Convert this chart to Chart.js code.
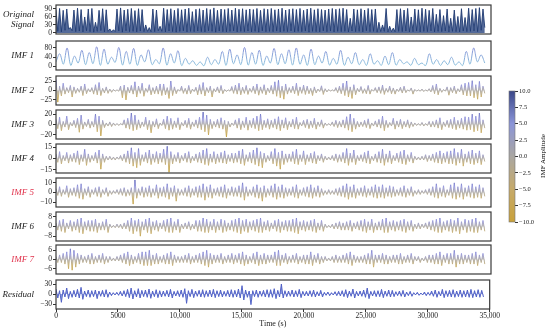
<!DOCTYPE html>
<html>
<head>
<meta charset="utf-8">
<script src="https://cdn.jsdelivr.net/npm/chart.js@4.4.1/dist/chart.umd.min.js"></script>
<style>
  body { margin: 0; background: #fff; }
  #wrap { position: relative; width: 550px; height: 334px; overflow: hidden; }
  #wrap canvas { position: absolute; }
  .lab { position: absolute; right: 516px; font: italic 9px "Liberation Serif", serif; color: #222; text-align: right; line-height: 10.5px; white-space: pre; }
  .cbt { position: absolute; font: 7px "Liberation Serif", serif; color: #111; transform: rotate(-90deg); transform-origin: center; white-space: nowrap; }
</style>
</head>
<body>
<div id="wrap"></div>
<script>
// ---- data ----
const panelNames = ['Original\nSignal', 'IMF 1', 'IMF 2', 'IMF 3', 'IMF 4', 'IMF 5', 'IMF 6', 'IMF 7', 'Residual'];

const originalSignal = [
  88,6,92,4,85,10,90,15,20,8, 86,5,93,7,88,4,60,8,90,5, 92,3,40,6,85,9,91,4,87,6,
  15,4,12,5,90,7,94,3,86,8, 89,5,92,6,84,4,91,7,88,5, 30,6,20,4,90,5,86,8,25,6,
  93,4,88,7,91,5,85,3,92,6, 87,8,90,4,93,6,80,5,89,7, 91,5,86,4,92,8,88,6,94,3,
  85,7,90,5,88,4,92,6,86,8, 93,4,89,6,91,5,87,7,90,4, 88,6,92,3,85,8,91,5,89,6,
  92,5,87,7,90,4,93,6,86,5, 89,8,91,4,88,6,92,5,85,7, 90,3,93,6,87,5,91,4,88,8,
  86,5,90,7,92,4,89,6,91,5, 93,6,88,4,55,7,90,5,87,6, 91,4,86,8,92,5,88,6,90,3,
  40,5,30,6,92,4,25,5,18,4, 88,6,91,5,86,7,92,4,60,5, 90,7,87,4,93,6,89,5,85,8,
  92,4,70,6,88,5,65,7,90,4, 55,6,86,5,62,4,91,7,58,5, 93,6,88,8,92,5,95,10,90,20
];
const imf1 = [
  20,55,10,80,5,45,15,70,8,60,12,85,5,75,10,40,18,82,6,
  65,10,78,5,50,20,72,8,30,12,80,6,55,15,68,4,35,10,
  25,5,20,3,40,8,30,10,65,5,75,12,50,8,82,6,
  60,10,70,5,45,15,78,8,55,12,72,6,80,10,50,5,
  75,8,45,15,65,6,35,10,70,5,40,12,60,8,30,5,
  55,10,25,5,45,8,60,6,30,12,20,5,35,8,15,4,
  55,10,30,5,25,8,40,6,20,4,65,10,80,20,50,15
];
const imf2 = [
  30,-32,12,-15,20,-10,8,-6,14,-18, 10,-8,6,-5,12,-14,18,-9,5,-4, 8,-10,16,-12,22,-14,6,-7,10,-8,
  4,-5,3,-2,2,-2,12,-20,15,-26, 9,-7,14,-10,24,-18,12,-8,20,-16, 6,-5,16,-12,8,-9,12,-10,18,-14,
  18,-12,8,-22,26,-14,10,-9,3,-2, 12,-8,6,-10,14,-9,4,-3,9,-12, 16,-10,22,-15,8,-6,12,-18,5,-4,
  10,-7,14,-9,3,-3,2,-2,11,-8, 15,-10,20,-12,9,-8,14,-11,6,-5, 12,-9,18,-13,10,-8,16,-12,7,-6,
  14,-10,24,-16,28,-20,12,-24,18,-10, 8,-6,12,-9,20,-14,10,-8,15,-11, 12,-9,6,-14,10,-7,4,-3,13,-11,
  5,-4,3,-2,2,-2,8,-6,12,-9, 20,-14,26,-18,10,-22,16,-12,6,-4, 11,-8,5,-9,14,-10,3,-2,8,-6,
  10,-8,15,-11,6,-5,12,-9,7,-10, 4,-3,9,-7,12,-6,2,-2,7,-10, 3,-2,2,-2,4,-3,2,-2,5,-4,
  14,-9,18,-12,6,-5,3,-2,10,-13, 8,-6,12,-9,5,-4,16,-12,20,-15, 22,-15,27,-20,16,-24,25,-18,12,-8
];
const imf3 = [
  10,-8,14,-12,6,-5,16,-10,4,-3, 8,-6,12,-15,18,-9,5,-4,10,-7, 6,-5,20,-14,16,-22,8,-6,3,-3,
  5,-4,3,-2,2,-2,2,-1,9,-7, 12,-9,22,-12,18,-10,9,-7,5,-4, 14,-10,8,-16,6,-5,11,-8,3,-2,
  10,-8,16,-11,12,-9,7,-6,13,-10, 4,-3,8,-6,12,-9,5,-4,9,-7, 14,-10,24,-14,18,-20,10,-8,6,-5,
  10,-7,13,-9,8,-24,6,-5,3,-2, 9,-7,12,-10,7,-6,14,-11,8,-6, 12,-8,16,-12,20,-10,8,-6,11,-9,
  8,-6,11,-9,15,-12,9,-7,13,-10, 6,-5,10,-8,14,-9,4,-3,8,-6, 10,-8,7,-6,12,-9,5,-4,9,-7,
  3,-2,2,-2,5,-4,8,-6,6,-5, 9,-7,15,-11,20,-14,12,-9,6,-5, 5,-4,8,-6,11,-8,3,-3,7,-5,
  10,-7,16,-12,8,-6,4,-3,12,-9, 7,-5,10,-8,6,-5,9,-7,5,-4, 3,-2,2,-2,4,-3,2,-2,6,-5,
  6,-5,9,-7,13,-10,5,-4,8,-6, 10,-8,14,-10,8,-7,12,-9,15,-11, 14,-10,20,-14,16,-12,22,-16,9,-7
];
const imf4 = [
  6,-5,9,-7,4,-3,8,-6,5,-4, 7,-5,10,-8,5,-4,12,-9,6,-5, 4,-3,8,-6,11,-14,6,-5,3,-2,
  3,-2,2,-2,2,-1,4,-3,6,-5, 10,-7,14,-10,8,-12,13,-9,5,-4, 8,-6,11,-8,6,-5,9,-7,7,-5,
  12,-8,16,-18,9,-7,5,-4,8,-6, 4,-3,7,-5,9,-6,3,-3,6,-5, 8,-6,11,-8,13,-9,6,-5,9,-7,
  6,-5,8,-6,10,-7,5,-4,7,-6, 7,-5,10,-7,12,-9,5,-4,8,-6, 11,-8,14,-10,9,-12,7,-5,4,-3,
  9,-7,13,-10,8,-14,10,-8,6,-5, 6,-4,9,-7,12,-8,5,-4,10,-8, 5,-4,7,-6,9,-7,4,-3,6,-5,
  3,-2,2,-2,4,-3,6,-5,5,-4, 8,-6,13,-9,7,-5,11,-8,4,-3, 5,-4,8,-6,10,-7,3,-3,6,-5,
  9,-6,12,-9,6,-5,10,-7,4,-3, 7,-5,9,-7,11,-8,5,-4,8,-6, 3,-2,2,-2,3,-2,5,-4,4,-3,
  6,-5,8,-6,10,-7,7,-5,9,-7, 10,-7,13,-9,8,-6,12,-10,6,-5, 9,-7,11,-8,7,-6,10,-8,5,-4
];
const imf5 = [
  4,-3,6,-4,3,-2,7,-5,4,-3, 5,-4,8,-6,9,-7,4,-3,6,-5, 3,-2,5,-4,6,-5,3,-2,5,-4,
  2,-2,2,-1,3,-2,4,-3,5,-4, 3,-3,5,-12,13,-6,4,-3,6,-5, 5,-4,7,-5,4,-3,8,-6,5,-4,
  6,-5,9,-7,5,-4,7,-9,4,-3, 3,-3,5,-4,7,-5,4,-3,6,-5, 7,-5,9,-8,6,-5,8,-6,4,-3,
  5,-4,6,-5,8,-6,4,-3,6,-4, 5,-4,7,-5,10,-8,6,-4,3,-3, 6,-5,8,-6,5,-9,7,-5,4,-3,
  7,-5,9,-7,6,-5,8,-6,5,-4, 4,-3,6,-5,8,-6,3,-3,5,-4, 6,-5,8,-6,5,-4,7,-5,4,-3,
  2,-2,3,-2,2,-2,4,-3,5,-4, 7,-5,9,-7,6,-5,8,-6,4,-3, 5,-4,7,-5,4,-3,6,-5,8,-6,
  6,-5,8,-6,5,-4,7,-5,6,-4, 3,-3,5,-4,7,-5,4,-3,6,-4, 2,-2,3,-2,2,-1,3,-2,4,-3,
  6,-5,9,-6,5,-4,7,-5,3,-3, 8,-6,10,-7,6,-5,9,-7,5,-4, 7,-5,9,-6,6,-5,8,-6,5,-4
];
const imf6 = [
  3,-3,5,-4,6,-5,3,-2,5,-4, 4,-3,6,-5,7,-6,4,-3,5,-4, 5,-4,6,-5,3,-3,4,-3,6,-5,
  2,-1,1,-1,2,-1,2,-2,3,-2, 5,-4,7,-6,5,-4,6,-8,4,-3, 6,-5,7,-6,4,-3,5,-4,3,-2,
  5,-4,6,-5,7,-5,4,-3,6,-5, 2,-2,3,-2,4,-3,2,-2,5,-4, 5,-4,7,-5,6,-5,4,-3,6,-5,
  4,-3,6,-5,5,-4,3,-3,5,-4, 6,-5,7,-6,5,-4,6,-5,4,-3, 5,-4,6,-5,7,-5,4,-3,5,-4,
  3,-2,5,-4,6,-5,4,-3,5,-4, 5,-4,6,-5,7,-6,4,-3,5,-4, 4,-3,5,-4,6,-5,3,-3,5,-4,
  2,-1,1,-1,2,-2,3,-2,4,-3, 3,-3,4,-3,5,-4,3,-2,4,-3, 5,-4,6,-5,4,-3,6,-5,3,-3,
  4,-3,6,-5,7,-5,4,-3,5,-4, 4,-3,5,-4,6,-5,4,-3,5,-4, 2,-2,3,-2,2,-1,3,-2,4,-3,
  5,-4,6,-5,7,-5,4,-3,5,-4, 6,-5,5,-4,7,-6,4,-3,6,-5, 5,-4,6,-5,7,-5,4,-3,5,-4
];
const imf7 = [
  2,-2,3,-2,4,-3,5,-6,7,-7, 6,-5,4,-3,3,-2,2,-2,3,-3, 4,-3,2,-2,3,-2,4,-3,2,-2,
  2,-1,1,-1,2,-1,3,-2,4,-3, 5,-4,3,-3,2,-2,4,-3,5,-4, 5,-4,6,-4,3,-3,4,-3,2,-2,
  3,-3,4,-3,5,-4,3,-2,2,-2, 2,-2,3,-2,4,-3,2,-2,3,-2, 4,-3,5,-4,6,-5,4,-3,3,-2,
  3,-2,4,-3,2,-2,3,-2,4,-3, 3,-2,4,-3,5,-4,3,-3,2,-2, 4,-3,5,-4,3,-3,4,-3,3,-2,
  3,-2,5,-4,6,-4,3,-2,4,-3, 2,-2,3,-2,4,-3,2,-2,3,-3, 3,-3,5,-4,3,-2,4,-3,2,-2,
  2,-1,1,-1,2,-2,3,-2,2,-2, 3,-2,4,-3,5,-4,3,-2,2,-2, 2,-2,3,-3,4,-3,6,-5,3,-2,
  3,-2,4,-3,3,-3,2,-2,3,-2, 3,-3,4,-3,2,-2,3,-2,4,-3, 2,-1,2,-2,1,-1,2,-2,3,-2,
  3,-3,4,-3,5,-4,3,-2,4,-3, 4,-3,6,-5,3,-3,4,-3,3,-2, 3,-3,4,-3,5,-4,3,-2,4,-3
];
const residual = [
  15,-12,10,-25,12,-9,18,-14,8,-10, 11,-9,14,-12,20,-16,9,-8,12,-10, 10,-8,12,-14,9,-7,11,-9,13,-10,
  6,-5,4,-3,5,-4,8,-6,10,-8, 14,-11,18,-15,10,-9,16,-12,11,-8, 12,-10,15,-13,9,-8,13,-11,10,-9,
  9,-7,11,-9,14,-12,8,-6,10,-8, 12,-10,16,-28,10,-8,14,-11,9,-7, 11,-9,13,-10,10,-8,12,-9,14,-11,
  10,-8,12,-9,8,-7,11,-9,13,-10, 11,-9,15,-12,25,-18,12,-10,9,-32, 10,-8,12,-10,9,-7,11,-9,13,-10,
  13,-10,16,-14,11,-9,30,-12,10,-8, 9,-7,12,-9,10,-8,14,-11,8,-6, 8,-6,10,-8,12,-9,7,-6,11,-9,
  5,-4,6,-5,4,-3,7,-5,8,-6, 10,-8,13,-11,9,-7,15,-12,8,-6, 9,-7,12,-10,18,-14,8,-6,10,-8,
  10,-8,14,-11,9,-7,12,-9,11,-8, 7,-5,9,-7,11,-9,6,-5,8,-7, 4,-3,5,-4,3,-3,6,-5,5,-4,
  9,-7,12,-10,8,-6,14,-11,10,-8, 11,-9,13,-10,9,-8,12,-10,10,-9, 12,-10,14,-11,10,-9,13,-10,11,-9
];

const yTicks = [[0, 30, 60, 90], [0, 40, 80], [-25, 0, 25], [-20, 0, 20], [-15, 0, 15], [-10, 0, 10], [-8, 0, 8], [-6, 0, 6], [-30, 0, 30]];
const yRanges = [[-4, 105], [-15, 110], [-40, 40], [-28, 28], [-19, 19], [-15, 15], [-12, 12], [-9.5, 9.5], [-45, 42]];
const xTicks = [0, 5000, 10000, 15000, 20000, 25000, 30000, 35000];
const cbarTicks = [-10, -7.5, -5, -2.5, 0, 2.5, 5, 7.5, 10];
const T_END = 34500;

// ---- styling / layout ----
const FONT = '"Liberation Serif", "DejaVu Serif", serif';
const panelTops = [5, 41, 76, 110, 144, 178, 212, 245, 280];
const PANEL_H = 29;
const PAD = 6;
const CBAR_STOPS = [[0, [201, 161, 58]], [0.25, [198, 170, 106]], [0.5, [170, 167, 162]], [0.75, [139, 149, 216]], [1, [59, 72, 137]]];
const BAND_STOPS = [[0, [196, 158, 48]], [0.3, [201, 176, 112]], [0.5, [172, 168, 164]], [0.7, [150, 152, 222]], [1, [84, 92, 176]]];
const IMF1_STOPS = [[0, [140, 205, 222]], [1, [134, 128, 214]]];
const RES_STOPS = [[0, [120, 200, 230]], [0.5, [90, 110, 205]], [1, [70, 88, 200]]];

Chart.defaults.font.family = FONT;
Chart.defaults.color = '#222';

const frame = {
  id: 'frame',
  afterDatasetsDraw(chart, args, opts) {
    const { ctx, chartArea: a } = chart;
    ctx.save();
    ctx.strokeStyle = opts.color || '#3a3a3a';
    ctx.lineWidth = opts.width || 1.2;
    ctx.strokeRect(a.left, a.top, a.width, a.height);
    ctx.restore();
  }
};

const rgba = (c, a) => `rgba(${c[0]},${c[1]},${c[2]},${a})`;

function areaGradient(chart, stops, alpha) {
  const { ctx, chartArea: a } = chart;
  if (!a) return rgba(stops[0][1], alpha);
  const g = ctx.createLinearGradient(0, a.bottom, 0, a.top);
  stops.forEach(([p, c]) => g.addColorStop(p, rgba(c, alpha)));
  return g;
}

const toPoints = (vals) => vals.map((v, i) => ({ x: i * T_END / (vals.length - 1), y: v }));

const wrap = document.getElementById('wrap');

function createPanel(i, values, line, fill, opts = {}) {
  const last = i === panelNames.length - 1;
  const canvas = document.createElement('canvas');
  canvas.width = 500;
  canvas.height = PAD + PANEL_H + (last ? 22 : PAD);
  canvas.style.left = '0px';
  canvas.style.top = (panelTops[i] - PAD) + 'px';
  wrap.appendChild(canvas);

  const lab = document.createElement('div');
  lab.className = 'lab';
  lab.textContent = panelNames[i];
  if (i === 5 || i === 7) lab.style.color = '#e0304a';
  const lines = panelNames[i].split('\n').length;
  lab.style.top = (panelTops[i] + PANEL_H / 2 - lines * 5.25 - 0.5) + 'px';
  wrap.appendChild(lab);

  new Chart(canvas.getContext('2d'), {
    type: 'line',
    data: {
      datasets: [{
        data: toPoints(values),
        borderColor: line,
        backgroundColor: fill || 'transparent',
        borderWidth: opts.lw || 0.9,
        pointRadius: 0,
        tension: opts.tension || 0,
        fill: fill ? 'origin' : false
      }]
    },
    options: {
      responsive: false,
      animation: false,
      events: [],
      layout: { padding: { top: PAD, bottom: last ? 0 : PAD, left: 0, right: 9 } },
      plugins: { legend: { display: false }, tooltip: { enabled: false }, frame: { width: 1.2 } },
      scales: {
        x: {
          type: 'linear',
          min: 0,
          max: 35000,
          display: last,
          afterBuildTicks: (s) => { s.ticks = xTicks.map(v => ({ value: v })); },
          afterFit: (s) => { if (last) s.height = 22; },
          grid: { drawOnChartArea: false, tickLength: 3, color: '#333' },
          border: { display: false },
          ticks: {
            font: { size: 7.5 },
            padding: 0,
            maxRotation: 0,
            autoSkip: false,
            callback: (v) => v >= 10000 ? v.toLocaleString('en-US') : String(v)
          },
          title: { display: true, text: 'Time (s)', font: { size: 8 }, padding: { top: 0, bottom: 2 } }
        },
        y: {
          min: yRanges[i][0],
          max: yRanges[i][1],
          afterBuildTicks: (s) => { s.ticks = yTicks[i].map(v => ({ value: v })); },
          afterFit: (s) => { s.width = 56; },
          grid: { drawOnChartArea: false, tickLength: 3, color: '#333' },
          border: { display: false },
          ticks: { font: { size: 7.5 }, padding: 1, autoSkip: false, callback: (v) => String(v).replace('-', '\u2212') }
        }
      }
    },
    plugins: [frame]
  });
}

createPanel(0, originalSignal, '#1f3a72', 'rgba(36,64,124,0.78)', { lw: 0.9 });
createPanel(1, imf1, (c) => areaGradient(c.chart, IMF1_STOPS, 1), null, { lw: 1, tension: 0.35 });
[imf2, imf3, imf4, imf5, imf6, imf7].forEach((vals, k) => {
  createPanel(k + 2, vals, (c) => areaGradient(c.chart, BAND_STOPS, 1), (c) => areaGradient(c.chart, BAND_STOPS, 0.7));
});
createPanel(8, residual, '#4a5ac4', (c) => areaGradient(c.chart, RES_STOPS, 0.7));

// ---- colour bar ----
function createColorbar() {
  const canvas = document.createElement('canvas');
  canvas.width = 50;
  canvas.height = 143;
  canvas.style.left = '500px';
  canvas.style.top = '85px';
  wrap.appendChild(canvas);

  const t = document.createElement('div');
  t.className = 'cbt';
  t.textContent = 'IMF Amplitude';
  t.style.left = '520px';
  t.style.top = '152px';
  t.style.width = '46px';
  t.style.textAlign = 'center';
  wrap.appendChild(t);

  new Chart(canvas.getContext('2d'), {
    type: 'bar',
    data: {
      labels: ['amp'],
      datasets: [{
        data: [[cbarTicks[0], cbarTicks[cbarTicks.length - 1]]],
        backgroundColor: (c) => areaGradient(c.chart, CBAR_STOPS, 1),
        borderWidth: 0,
        barPercentage: 1,
        categoryPercentage: 1
      }]
    },
    options: {
      responsive: false,
      animation: false,
      events: [],
      layout: { padding: { top: 6, bottom: 6, left: 9, right: 0 } },
      plugins: { legend: { display: false }, tooltip: { enabled: false }, frame: { width: 0.6, color: '#777' } },
      scales: {
        x: { display: false },
        y: {
          position: 'right',
          min: -10,
          max: 10,
          afterBuildTicks: (s) => { s.ticks = cbarTicks.map(v => ({ value: v })); },
          afterFit: (s) => { s.width = 35; },
          grid: { drawOnChartArea: false, tickLength: 3, color: '#333' },
          border: { display: false },
          ticks: { font: { size: 6.5 }, padding: 1, autoSkip: false, callback: (v) => v.toFixed(1).replace('-', '\u2212') }
        }
      }
    },
    plugins: [frame]
  });
}
createColorbar();
</script>
</body>
</html>
